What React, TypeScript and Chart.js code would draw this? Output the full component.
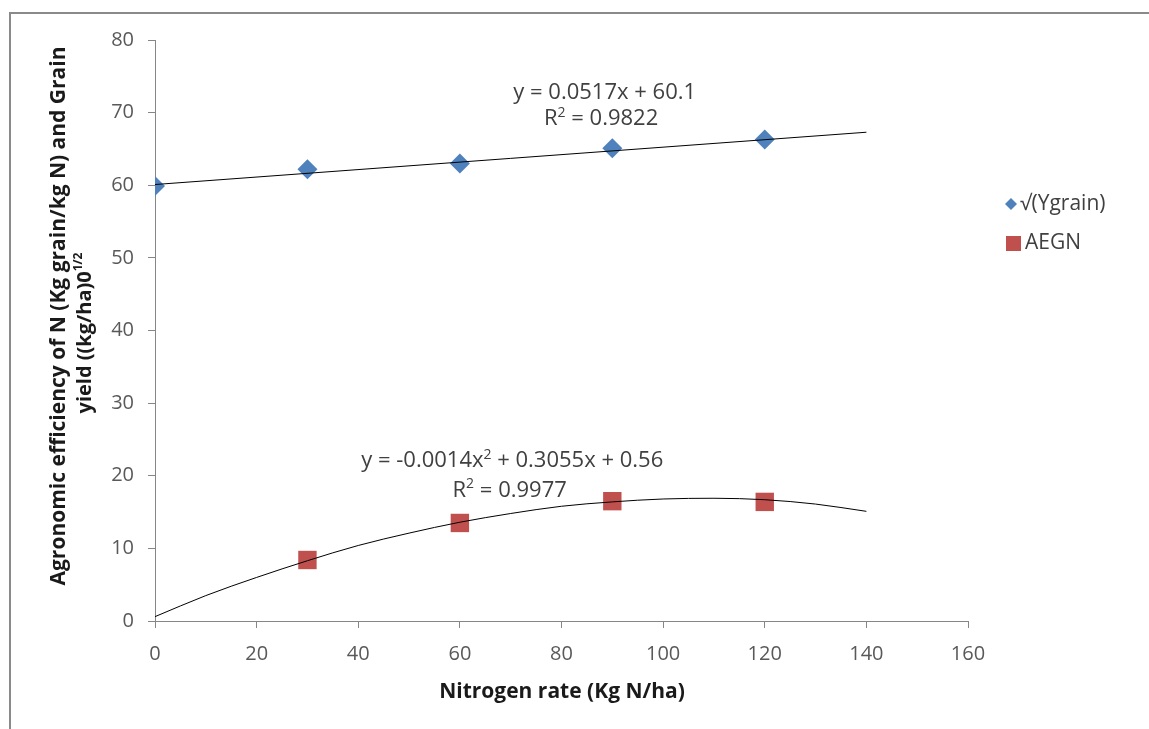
import React, { useEffect, useRef } from "react";
import { Chart, registerables } from "chart.js";
Chart.register(...registerables);

const nitrogenRates = [0, 30, 60, 90, 120];
const yGrainSqrt = [59.9, 62.2, 63.0, 65.1, 66.3];
const aegnRates = [30, 60, 90, 120];
const aegnValues = [8.4, 13.5, 16.5, 16.4];
const linearTrendX = [0, 140];
const linearTrendY = [60.1, 67.3];
const polyTrendX = [0, 10, 20, 30, 40, 50, 60, 70, 80, 90, 100, 110, 120, 130, 140];
const polyTrendY = [0.6, 3.5, 6.0, 8.3, 10.4, 12.1, 13.6, 14.8, 15.8, 16.4, 16.8, 16.9, 16.7, 16.1, 15.1];
const xAxisRange = [0, 160, 20];
const yAxisRange = [0, 80, 10];

const seriesNames = ["√(Ygrain)", "AEGN"];
const xTitle = "Nitrogen rate (Kg N/ha)";
const yTitleLine1 = "Agronomic efficiency of N (Kg grain/kg N) and Grain";
const yTitleLine2 = ["yield ((kg/ha)0", "1/2"];
const eqLinear = ["y = 0.0517x + 60.1"];
const r2Linear = ["R", "2", " = 0.9822"];
const eqPoly = ["y = -0.0014x", "2", " + 0.3055x + 0.56"];
const r2Poly = ["R", "2", " = 0.9977"];

const BLUE = "#4F81BD";
const RED = "#C0504D";
const FONT = "'Open Sans', 'Liberation Sans', sans-serif";

type Seg = string[];

function drawRich(ctx: CanvasRenderingContext2D, segs: Seg, cx: number, cy: number, size: number, weight: string, color: string) {
  const normal = `${weight} ${size}px ${FONT}`;
  const sup = `${weight} ${Math.round(size * 0.62)}px ${FONT}`;
  let total = 0;
  const widths: number[] = [];
  segs.forEach((s, i) => {
    ctx.font = i % 2 === 0 ? normal : sup;
    const w = ctx.measureText(s).width;
    widths.push(w);
    total += w;
  });
  let x = cx - total / 2;
  ctx.fillStyle = color;
  ctx.textAlign = "left";
  ctx.textBaseline = "middle";
  segs.forEach((s, i) => {
    ctx.font = i % 2 === 0 ? normal : sup;
    ctx.fillText(s, x, i % 2 === 0 ? cy : cy - size * 0.3);
    x += widths[i];
  });
}

const decorPlugin = {
  id: "decor",
  afterDraw(chart: any) {
    const ctx: CanvasRenderingContext2D = chart.ctx;
    const xs = chart.scales.x;
    const ys = chart.scales.y;
    ctx.save();
    // frame
    ctx.strokeStyle = "#8a8a8a";
    ctx.lineWidth = 2;
    ctx.strokeRect(10, 13, 1160, 740);

    // equations
    drawRich(ctx, eqLinear, xs.getPixelForValue(88.5), ys.getPixelForValue(72.7), 22, "normal", "#404040");
    drawRich(ctx, r2Linear, xs.getPixelForValue(87.8), ys.getPixelForValue(69.1), 22, "normal", "#404040");
    drawRich(ctx, eqPoly, xs.getPixelForValue(70.3), ys.getPixelForValue(22.0), 22, "normal", "#404040");
    drawRich(ctx, r2Poly, xs.getPixelForValue(69.8), ys.getPixelForValue(18.0), 22, "normal", "#404040");

    // x title
    drawRich(ctx, [xTitle], 562, 692, 21, "bold", "#1a1a1a");

    // y title (rotated)
    ctx.save();
    ctx.translate(59, 316);
    ctx.rotate(-Math.PI / 2);
    drawRich(ctx, [yTitleLine1], 0, 0, 21, "bold", "#1a1a1a");
    ctx.restore();
    ctx.save();
    ctx.translate(85, 333);
    ctx.rotate(-Math.PI / 2);
    drawRich(ctx, yTitleLine2, 0, 0, 20, "bold", "#1a1a1a");
    ctx.restore();

    // legend
    ctx.fillStyle = BLUE;
    ctx.beginPath();
    ctx.moveTo(1011, 198);
    ctx.lineTo(1017, 204);
    ctx.lineTo(1011, 210);
    ctx.lineTo(1005, 204);
    ctx.closePath();
    ctx.fill();
    ctx.fillStyle = RED;
    ctx.fillRect(1006, 236, 15, 15);
    ctx.fillStyle = "#404040";
    ctx.font = `normal 21px ${FONT}`;
    ctx.textAlign = "left";
    ctx.textBaseline = "middle";
    ctx.fillText(seriesNames[0], 1020, 204);
    ctx.fillText(seriesNames[1], 1025, 243);
    ctx.restore();
  },
};

export default function App() {
  const ref = useRef<HTMLCanvasElement | null>(null);
  useEffect(() => {
    if (!ref.current) return;
    const tickFont = { family: FONT, size: 20 };
    const chart = new Chart(ref.current, {
      type: "scatter",
      data: {
        datasets: [
          {
            label: "linear trend",
            data: linearTrendX.map((x, i) => ({ x, y: linearTrendY[i] })),
            showLine: true,
            borderColor: "#000000",
            borderWidth: 1,
            pointRadius: 0,
          },
          {
            label: "poly trend",
            data: polyTrendX.map((x, i) => ({ x, y: polyTrendY[i] })),
            showLine: true,
            borderColor: "#000000",
            borderWidth: 1,
            pointRadius: 0,
            cubicInterpolationMode: "monotone",
          },
          {
            label: seriesNames[0],
            data: nitrogenRates.map((x, i) => ({ x, y: yGrainSqrt[i] })),
            pointStyle: "rectRot",
            pointRadius: 10,
            backgroundColor: BLUE,
            borderColor: BLUE,
            borderWidth: 0,
          },
          {
            label: seriesNames[1],
            data: aegnRates.map((x, i) => ({ x, y: aegnValues[i] })),
            pointStyle: "rect",
            pointRadius: 13,
            backgroundColor: RED,
            borderColor: RED,
            borderWidth: 0,
          },
        ],
      } as any,
      options: {
        responsive: false,
        animation: false,
        layout: { padding: { left: 0, top: 40, right: 181, bottom: 0 } },
        plugins: { legend: { display: false }, tooltip: { enabled: false } },
        scales: {
          x: {
            type: "linear",
            min: xAxisRange[0],
            max: xAxisRange[1],
            ticks: { stepSize: xAxisRange[2], font: tickFont, color: "#595959", padding: 14 },
            grid: { drawOnChartArea: false, drawTicks: true, tickLength: 7, color: "#868686" },
            border: { display: true, color: "#868686" },
            afterFit: (s: any) => { s.height = 108; },
          },
          y: {
            type: "linear",
            min: yAxisRange[0],
            max: yAxisRange[1],
            ticks: { stepSize: yAxisRange[2], font: tickFont, color: "#595959", padding: 14 },
            grid: { drawOnChartArea: false, drawTicks: true, tickLength: 7, color: "#868686" },
            border: { display: true, color: "#868686" },
            afterFit: (s: any) => { s.width = 155; },
          },
        },
      } as any,
      plugins: [decorPlugin],
    });
    return () => chart.destroy();
  }, []);
  return (
    <div style={{ position: "fixed", left: 0, top: 0, width: 1149, height: 729, background: "#ffffff" }}>
      <canvas ref={ref} width={1149} height={729} style={{ display: "block" }} />
    </div>
  );
}
